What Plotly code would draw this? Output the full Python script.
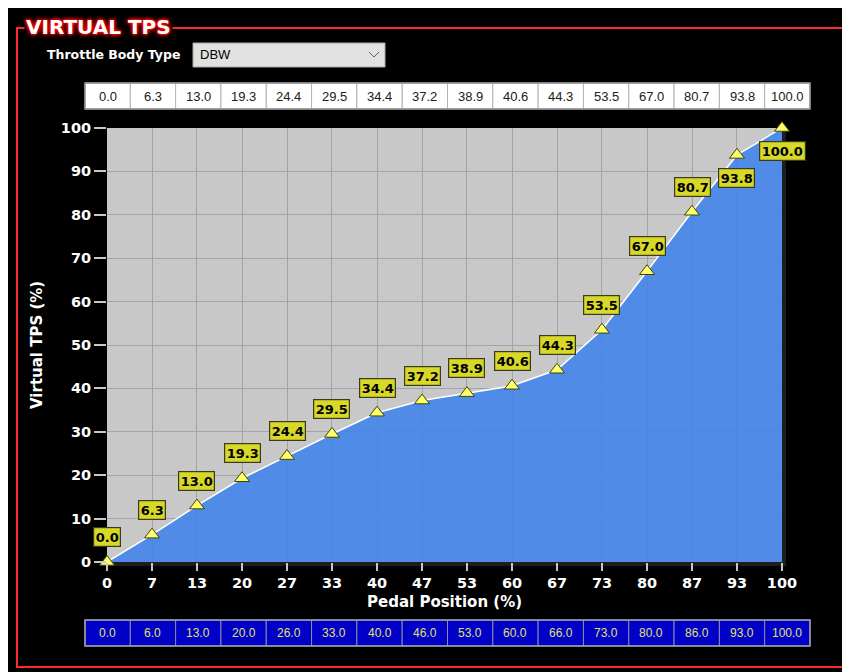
import plotly.graph_objects as go

# ---------------- data ----------------
pedal_x = [0, 6.67, 13.33, 20, 26.67, 33.33, 40, 46.67, 53.33, 60, 66.67, 73.33, 80, 86.67, 93.33, 100]
x_tick_labels = ["0", "7", "13", "20", "27", "33", "40", "47", "53", "60", "67", "73", "80", "87", "93", "100"]
virtual_tps = [0.0, 6.3, 13.0, 19.3, 24.4, 29.5, 34.4, 37.2, 38.9, 40.6, 44.3, 53.5, 67.0, 80.7, 93.8, 100.0]
pedal_table = [0.0, 6.0, 13.0, 20.0, 26.0, 33.0, 40.0, 46.0, 53.0, 60.0, 66.0, 73.0, 80.0, 86.0, 93.0, 100.0]
y_ticks = [0, 10, 20, 30, 40, 50, 60, 70, 80, 90, 100]

# ---------------- layout constants (screen pixels) ----------------
OX, OY = 8, 8            # page body margin
W, H = 842, 664          # figure size
PL, PR, PT, PB = 107, 782, 128, 562   # plot area on screen
L, T = PL - OX, PT - OY
R, B = W - (PR - OX), H - (PB - OY)
PW, PH = PR - PL, PB - PT
FONT = "DejaVu Sans"


def px(x):
    return (x - PL) / PW


def py(y):
    return (PB - y) / PH


fig = go.Figure()
fig.add_trace(go.Scatter(
    x=pedal_x, y=virtual_tps, mode="lines+markers",
    line=dict(color="white", width=1.5),
    fill="tozeroy", fillcolor="rgba(66,133,234,0.9)",
    marker=dict(symbol="triangle-up", size=13, color="#ffff66",
                line=dict(color="#404010", width=1)),
    cliponaxis=False, hoverinfo="x+y", showlegend=False,
))

shapes = []
annotations = []

# subtle shadow at right/bottom of plot area
shapes.append(dict(type="rect", xref="paper", yref="paper", x0=px(782), x1=px(786), y0=py(131), y1=py(566),
                   fillcolor="#1e1e1e", line=dict(width=0), layer="below"))
shapes.append(dict(type="rect", xref="paper", yref="paper", x0=px(110), x1=px(786), y0=py(562), y1=py(566),
                   fillcolor="#1e1e1e", line=dict(width=0), layer="below"))

# red frame
shapes.append(dict(type="rect", xref="paper", yref="paper", x0=px(17), x1=px(847), y0=py(28), y1=py(667),
                   line=dict(color="#ff2a2a", width=2), fillcolor="rgba(0,0,0,0)", layer="above"))

# title
annotations.append(dict(text="VIRTUAL TPS", xref="paper", yref="paper", x=px(24), y=py(27),
                        xanchor="left", yanchor="middle", showarrow=False, bgcolor="black", borderpad=1,
                        font=dict(family=FONT, size=20, color="white", weight="bold",
                                  shadow="0px 0px 2px #ff0000, 0px 0px 3px #ff0000, 0px 0px 4px #ff0000, 0px 0px 5px #ff2020")))

# throttle body type
annotations.append(dict(text="Throttle Body Type", xref="paper", yref="paper", x=px(45), y=py(55),
                        xanchor="left", yanchor="middle", showarrow=False,
                        font=dict(family=FONT, size=12.5, color="white", weight="bold")))
shapes.append(dict(type="rect", xref="paper", yref="paper", x0=px(193), x1=px(385), y0=py(43), y1=py(67),
                   fillcolor="#e1e1e1", line=dict(color="#a8a8a8", width=1), layer="above"))
annotations.append(dict(text="DBW", xref="paper", yref="paper", x=px(198), y=py(55),
                        xanchor="left", yanchor="middle", showarrow=False,
                        font=dict(family="Liberation Sans", size=13, color="#000000")))
shapes.append(dict(type="path", xref="paper", yref="paper",
                   path=f"M {px(369)} {py(52)} L {px(374)} {py(57)} L {px(379)} {py(52)}",
                   line=dict(color="#606060", width=1), layer="above"))

# tables
TX0, TX1 = 85, 810
cw = (TX1 - TX0) / len(virtual_tps)
for i, v in enumerate(virtual_tps):
    x0 = TX0 + i * cw
    shapes.append(dict(type="rect", xref="paper", yref="paper", x0=px(x0), x1=px(x0 + cw), y0=py(83), y1=py(109),
                       fillcolor="white", line=dict(color="#b4b4b4", width=1), layer="above"))
    annotations.append(dict(text=f"{v:.1f}", xref="paper", yref="paper", x=px(x0 + cw / 2), y=py(96),
                            showarrow=False, xanchor="center", yanchor="middle",
                            font=dict(family="Liberation Sans", size=13, color="#202020")))
for i, v in enumerate(pedal_table):
    x0 = TX0 + i * cw
    shapes.append(dict(type="rect", xref="paper", yref="paper", x0=px(x0), x1=px(x0 + cw), y0=py(620), y1=py(646),
                       fillcolor="#0000c8", line=dict(color="#8c8ca8", width=1), layer="above"))
    annotations.append(dict(text=f"{v:.1f}", xref="paper", yref="paper", x=px(x0 + cw / 2), y=py(633),
                            showarrow=False, xanchor="center", yanchor="middle",
                            font=dict(family="Liberation Sans", size=12, color="#e0e070")))
shapes.append(dict(type="rect", xref="paper", yref="paper", x0=px(TX0), x1=px(TX1), y0=py(83), y1=py(109),
                   line=dict(color="#909090", width=1.5), fillcolor="rgba(0,0,0,0)", layer="above"))
shapes.append(dict(type="rect", xref="paper", yref="paper", x0=px(TX0), x1=px(TX1), y0=py(620), y1=py(646),
                   line=dict(color="#a0a0a0", width=1.5), fillcolor="rgba(0,0,0,0)", layer="above"))

# data labels
for i, (xv, yv) in enumerate(zip(pedal_x, virtual_tps)):
    shift = -23 if yv > 90 else 25
    annotations.append(dict(text=f"{yv:.1f}", x=xv, y=yv, xref="x", yref="y", showarrow=False,
                            yshift=shift, bgcolor="#d8d828", bordercolor="#3a3a20", borderwidth=1.2,
                            borderpad=1.5,
                            font=dict(family=FONT, size=13, color="black", weight="bold")))

# axis titles
annotations.append(dict(text="Virtual TPS (%)", xref="paper", yref="paper", x=px(37), y=py(345),
                        textangle=-90, showarrow=False, xanchor="center", yanchor="middle",
                        font=dict(family=FONT, size=15, color="white", weight="bold")))
annotations.append(dict(text="Pedal Position (%)", xref="paper", yref="paper", x=px(444), y=py(602),
                        showarrow=False, xanchor="center", yanchor="middle",
                        font=dict(family=FONT, size=15, color="white", weight="bold")))

fig.update_layout(
    width=W, height=H,
    margin=dict(l=L, r=R, t=T, b=B, autoexpand=False),
    paper_bgcolor="black", plot_bgcolor="#c8c8c8",
    shapes=shapes, annotations=annotations,
    xaxis=dict(range=[0, 100], tickvals=pedal_x, ticktext=x_tick_labels, showgrid=True,
               gridcolor="#a4a4a4", gridwidth=1, ticks="outside", ticklen=8, tickcolor="#c8c8c8",
               tickwidth=1.5, zeroline=False, showline=False, fixedrange=True,
               tickfont=dict(family=FONT, size=14.5, color="white", weight="bold")),
    yaxis=dict(range=[0, 100], tickvals=y_ticks, showgrid=True, gridcolor="#a4a4a4", gridwidth=1,
               ticks="outside", ticklen=12, tickcolor="#c8c8c8", tickwidth=1.5, zeroline=False,
               showline=False, fixedrange=True,
               tickfont=dict(family=FONT, size=14.5, color="white", weight="bold")),
    showlegend=False,
)

fig.write_html("out.html")
